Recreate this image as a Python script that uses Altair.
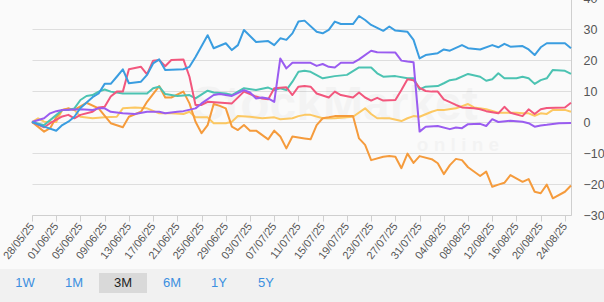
import altair as alt
import pandas as pd

# Percentage change since 28/05/25, sampled as (day offset, % change)
START = pd.Timestamp("2025-05-28")
LAST_DAY = 89

blue = [(0, 0), (2, -1.5), (4, -2.8), (5, -1.0), (6, 0.1), (7, 1.7), (8, 4.5), (10, 8.0), (11, 9.2),
        (12, 12.3), (13, 12.3), (14, 14.6), (15, 17.0), (16, 12.5), (18, 13.0), (19, 15.2), (20, 18.9),
        (21, 20.2), (22, 16.8), (25, 17.0), (26, 17.8), (27, 21.0), (29, 28.0), (30, 23.8), (32, 25.4),
        (33, 23.2), (34, 24.8), (35, 29.7), (37, 25.8), (39, 26.1), (40, 24.8), (41, 27.0), (42, 26.5),
        (43, 28.6), (44, 32.4), (45, 32.7), (47, 29.1), (48, 28.6), (49, 29.7), (50, 32.4), (51, 31.6),
        (53, 31.6), (54, 34.2), (55, 32.9), (56, 31.3), (58, 29.4), (59, 30.8), (60, 29.5), (62, 29.1),
        (63, 26.5), (64, 20.5), (65, 21.6), (67, 22.2), (68, 23.4), (69, 23.0), (71, 24.8), (72, 23.8),
        (74, 23.4), (76, 24.8), (77, 24.1), (78, 25.2), (79, 24.3), (81, 24.5), (82, 23.4), (83, 21.6),
        (84, 24.1), (85, 25.4), (88, 25.4), (89, 23.8)]

teal = [(0, 0), (2, -1.0), (3, 0.6), (5, 3.9), (6, 3.9), (7, 4.4), (8, 7.1), (9, 8.4), (10, 8.7),
        (11, 9.8), (12, 10.5), (13, 9.8), (15, 9.2), (19, 9.2), (20, 10.9), (21, 11.4), (22, 9.0),
        (24, 8.4), (26, 8.7), (27, 7.6), (29, 10.1), (30, 9.5), (32, 9.2), (33, 8.7), (35, 10.9),
        (37, 10.3), (39, 11.1), (40, 10.3), (41, 10.9), (42, 10.3), (43, 13.0), (44, 16.2), (45, 16.5),
        (46, 16.2), (48, 14.1), (50, 14.8), (52, 15.2), (54, 17.6), (56, 17.6), (57, 15.7), (58, 14.6),
        (60, 14.8), (62, 14.1), (63, 14.1), (64, 10.5), (65, 11.4), (67, 11.6), (68, 12.5), (69, 13.5),
        (70, 13.8), (72, 15.5), (74, 14.6), (75, 13.3), (76, 13.8), (77, 15.7), (78, 14.1), (80, 14.1),
        (81, 14.6), (82, 14.1), (83, 12.3), (84, 13.5), (85, 14.1), (86, 16.8), (88, 16.5), (89, 15.5)]

pink = [(0, 0), (2, -1.7), (3, -0.4), (5, 1.8), (6, 2.3), (7, 1.2), (8, 2.3), (10, 3.3), (11, 4.7),
        (12, 4.9), (13, 8.2), (14, 9.8), (15, 9.8), (16, 17.0), (18, 17.8), (19, 15.4), (20, 19.8),
        (21, 20.0), (22, 18.0), (23, 20.0), (25, 20.2), (26, 14.6), (27, 5.5), (28, 5.5), (29, 6.5),
        (33, 6.0), (35, 9.8), (37, 8.2), (38, 7.6), (39, 7.3), (40, 10.9), (42, 11.2), (43, 8.7),
        (44, 11.4), (45, 11.6), (46, 11.4), (47, 9.2), (49, 7.9), (50, 9.8), (51, 8.7), (53, 7.9),
        (54, 9.5), (55, 7.9), (56, 6.9), (57, 7.8), (58, 6.9), (60, 7.1), (61, 10.3), (62, 13.8),
        (63, 13.5), (64, 11.0), (65, 10.0), (66, 9.8), (67, 9.8), (68, 7.3), (70, 5.5), (71, 4.7),
        (73, 4.4), (74, 4.1), (75, 3.5), (77, 2.8), (78, 4.9), (79, 3.0), (81, 1.9), (82, 4.1),
        (83, 2.6), (84, 4.1), (85, 4.5), (88, 4.7), (89, 6.2)]

purple = [(0, 0), (2, 1.2), (3, 2.8), (4, 3.5), (5, 3.9), (8, 4.1), (10, 3.9), (11, 4.4), (12, 4.4),
          (13, 3.3), (15, 2.8), (17, 2.6), (19, 3.3), (21, 3.3), (22, 2.8), (24, 3.3), (25, 3.5),
          (27, 4.4), (28, 6.0), (30, 8.7), (31, 9.0), (33, 8.4), (35, 10.3), (36, 9.5), (37, 7.6),
          (38, 7.9), (39, 7.6), (40, 6.5), (41, 20.5), (42, 17.3), (43, 19.1), (46, 19.1), (47, 18.1),
          (48, 18.7), (49, 17.8), (50, 17.6), (51, 19.1), (53, 19.1), (54, 20.2), (56, 23.0), (57, 22.5),
          (60, 22.4), (61, 19.8), (62, 19.5), (63, 19.3), (64, -3.1), (65, -1.5), (67, -1.3), (69, -2.3),
          (70, -1.8), (71, -2.0), (72, -0.7), (74, -0.6), (75, -1.3), (76, 0.9), (77, 0.0), (79, 0.4),
          (81, 0.1), (82, -0.4), (83, -1.5), (84, -1.1), (85, -0.9), (87, -0.4), (89, -0.3)]

orange = [(0, 0), (2, -3.1), (3, -2.0), (4, 1.5), (5, 3.9), (6, 4.4), (7, 3.9), (9, 6.2), (11, 4.4),
          (13, -0.4), (15, -1.7), (16, 1.7), (18, 3.3), (19, 6.5), (21, 11.6), (22, 7.9), (23, 7.9),
          (25, 9.8), (26, 6.0), (27, 0.1), (28, -3.6), (29, -1.0), (30, 5.8), (31, 5.2), (32, 4.4),
          (33, -1.5), (34, -2.6), (35, -1.0), (36, -2.8), (37, -2.8), (39, -5.6), (40, -2.8), (41, -4.7),
          (42, -8.5), (43, -4.7), (45, -5.3), (46, -5.6), (47, -1.0), (48, 1.2), (49, 1.5), (50, 1.9),
          (53, 1.9), (54, -5.3), (55, -7.4), (56, -12.3), (58, -11.2), (59, -11.0), (60, -11.2),
          (61, -14.9), (62, -10.2), (63, -13.2), (64, -11.0), (66, -12.0), (67, -13.3), (68, -16.8),
          (69, -13.9), (70, -11.9), (71, -12.3), (72, -14.6), (74, -17.4), (75, -16.0), (76, -20.9),
          (77, -20.2), (78, -19.6), (79, -17.1), (81, -19.3), (82, -18.4), (83, -22.5), (84, -23.0),
          (85, -20.2), (86, -24.6), (88, -22.5), (89, -20.5)]

yellow = [(0, 0), (1, 1.2), (2, 0.1), (4, 0.0), (5, 3.9), (6, 4.4), (7, 3.9), (8, 1.7), (10, 1.2),
          (12, 1.5), (14, 1.7), (15, 4.4), (17, 4.7), (19, 4.4), (21, 2.8), (23, 2.8), (25, 2.6),
          (26, 3.3), (27, 1.5), (29, 1.5), (30, -0.4), (32, -0.4), (33, 0.1), (34, 1.9), (36, 1.7),
          (38, 1.2), (40, 1.5), (41, 0.9), (43, 1.2), (44, 1.9), (45, 2.3), (46, 2.3), (48, 1.2),
          (50, 1.2), (53, 1.7), (55, 4.4), (56, 2.6), (57, 1.2), (59, 1.2), (61, 0.3), (62, 1.2),
          (63, 1.9), (64, 1.7), (66, 3.3), (67, 3.9), (68, 3.9), (70, 4.4), (72, 5.8), (73, 4.7),
          (75, 4.1), (77, 3.0), (80, 3.0), (81, 2.8), (82, 2.8), (83, 2.0), (84, 2.8), (85, 2.6),
          (86, 3.9), (88, 3.9), (89, 3.3)]

series_names = ["yellow", "orange", "teal", "pink", "purple", "blue"]
series_points = [yellow, orange, teal, pink, purple, blue]
series_colors = ["#fcc862", "#f59b3c", "#4cc3b2", "#f2577d", "#9a5cf0", "#3a9de0"]

y_ticks = [-30, -20, -10, 0, 10, 20, 30, 40]
range_buttons = ["1W", "1M", "3M", "6M", "1Y", "5Y"]
selected_button = "3M"

rows = []
for name, pts in zip(series_names, series_points):
    for d, v in pts:
        rows.append({"series": name,
                     "date": (START + pd.Timedelta(days=d)).strftime("%Y-%m-%d"),
                     "pct": v})
df = pd.DataFrame(rows)


def utc_dt(ts):
    return alt.DateTime(year=ts.year, month=ts.month, date=ts.day, utc=True)


tick_dates = [utc_dt(START + pd.Timedelta(days=4 * i)) for i in range(23)]
x_domain = [utc_dt(START), utc_dt(START + pd.Timedelta(days=LAST_DAY))]

FONT = "Liberation Sans"
PAD_L, PAD_T = 32, -2

lines = alt.Chart(df).mark_line(strokeWidth=2, strokeJoin="round").encode(
    x=alt.X("date:T",
            scale=alt.Scale(type="utc", domain=x_domain),
            axis=alt.Axis(values=tick_dates, format="%d/%m/%y", labelAngle=-52,
                          labelAlign="right", labelBaseline="middle", labelFontSize=11,
                          labelColor="#555555", labelFont=FONT, labelPadding=3,
                          labelOverlap=False, domainColor="#cfcfcf", tickColor="#cfcfcf",
                          tickSize=6, grid=False, title=None)),
    y=alt.Y("pct:Q",
            scale=alt.Scale(domain=[-30, 40], nice=False, zero=False),
            axis=alt.Axis(orient="right", values=y_ticks, grid=True, gridColor="#dedede",
                          domainColor="#cfcfcf", ticks=False, labelPadding=12,
                          labelFontSize=12.5, labelColor="#555555", labelFont=FONT,
                          labelOverlap=False, title=None)),
    color=alt.Color("series:N", scale=alt.Scale(domain=series_names, range=series_colors),
                    legend=None),
)

one = pd.DataFrame({"k": [0]})

# faint site watermark behind the lines
wm_main = alt.Chart(one).mark_text(
    text="StockMarket", font=FONT, fontSize=48, fontWeight="bold", color="#000000",
    opacity=0.022, align="center", baseline="middle"
).encode(x=alt.value(335 - PAD_L), y=alt.value(106 - PAD_T))
wm_sub = alt.Chart(one).mark_text(
    text="o n l i n e", font=FONT, fontSize=19, fontWeight="bold", color="#000000",
    opacity=0.022, align="center", baseline="middle"
).encode(x=alt.value(458 - PAD_L), y=alt.value(145 - PAD_T))

# range selector strip below the axis
band = alt.Chart(one).mark_rect(color="#f1f1f1").encode(
    x=alt.value(-PAD_L), x2=alt.value(604 - PAD_L),
    y=alt.value(269 - PAD_T), y2=alt.value(302 - PAD_T))
sel_box = alt.Chart(one).mark_rect(color="#d9d9d9").encode(
    x=alt.value(99 - PAD_L), x2=alt.value(147 - PAD_L),
    y=alt.value(273 - PAD_T), y2=alt.value(293 - PAD_T))

button_centres = [25, 74, 123, 172, 219, 266]
buttons = []
for label, cx in zip(range_buttons, button_centres):
    buttons.append(alt.Chart(one).mark_text(
        text=label, font=FONT, fontSize=13,
        color="#222222" if label == selected_button else "#3b8fe0",
        align="center", baseline="middle"
    ).encode(x=alt.value(cx - PAD_L), y=alt.value(283 - PAD_T)))

chart = alt.layer(band, sel_box, wm_main, wm_sub, lines, *buttons).properties(
    width=539, height=217,
    padding={"left": PAD_L, "right": 604 - PAD_L - 539, "top": PAD_T,
             "bottom": 302 - PAD_T - 217},
    autosize=alt.AutoSizeParams(type="none"),
).configure(background="#fafafa").configure_view(stroke=None)

chart.save("out.html", embed_options={"renderer": "svg", "actions": False})
